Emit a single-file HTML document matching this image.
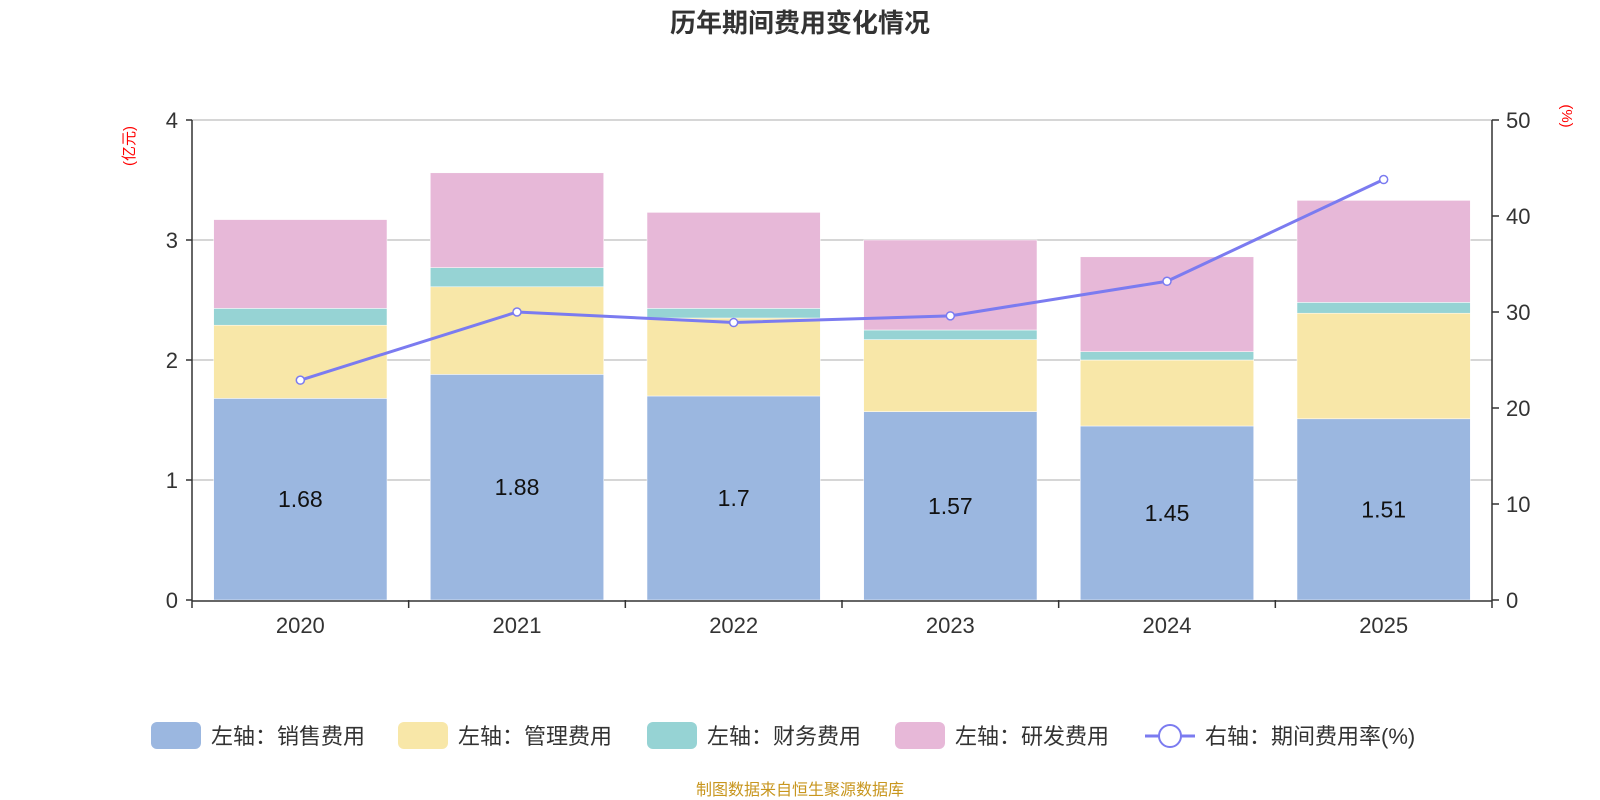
<!DOCTYPE html>
<html><head><meta charset="utf-8"><style>
body{margin:0;background:#fff;width:1600px;height:800px;overflow:hidden}
svg{display:block;font-family:"Liberation Sans","Noto Sans CJK SC",sans-serif}
</style></head><body>
<svg id="chart" width="1600" height="800">
<text x="800" y="32" text-anchor="middle" font-size="26" font-weight="bold" fill="#333">历年期间费用变化情况</text>
<text transform="translate(134,146) rotate(-90)" text-anchor="middle" font-size="15" fill="red">(亿元)</text>
<text transform="translate(1562,116) rotate(90)" text-anchor="middle" font-size="15" fill="red">(%)</text>
<g id="grid"></g><g id="bars"></g><g id="axes"></g><g id="line"></g>
<g id="legend" font-size="22" fill="#333"></g>
<text x="800" y="795" text-anchor="middle" font-size="16" fill="#c8961e">制图数据来自恒生聚源数据库</text>
</svg>
<script>
const categories=["2020","2021","2022","2023","2024","2025"];
const sales=[1.68,1.88,1.70,1.57,1.45,1.51];
const mgmt=[0.61,0.73,0.65,0.60,0.55,0.88];
const fin=[0.14,0.16,0.08,0.08,0.07,0.09];
const rd=[0.74,0.79,0.80,0.75,0.79,0.85];
const rate=[22.9,30.0,28.9,29.6,33.2,43.8];
const leftTicks=[0,1,2,3,4];
const rightTicks=[0,10,20,30,40,50];
const NS="http://www.w3.org/2000/svg";
const X0=192,X1=1492,Y0=600,Y1=120;
const band=(X1-X0)/categories.length;
const xc=i=>X0+band*(i+0.5);
const yL=v=>Y0-(Y0-Y1)*v/4;
const yR=v=>Y0-(Y0-Y1)*v/50;
function mk(tag,attrs,parent){const e=document.createElementNS(NS,tag);for(const k in attrs)e.setAttribute(k,attrs[k]);document.getElementById(parent).appendChild(e);return e;}
leftTicks.forEach(t=>{
 if(t>0){const l=mk('line',{x1:X0,x2:X1,y1:yL(t),y2:yL(t),stroke:'#c8c8c8','stroke-width':1.5},'grid');
 
 }
 const tx=mk('text',{x:X0-14,y:yL(t)+8,'text-anchor':'end','font-size':22,fill:'#333'},'axes');tx.textContent=t;
 
 
 mk('line',{x1:X0-6,x2:X0,y1:yL(t),y2:yL(t),stroke:'#333','stroke-width':1.5},'axes');
});
rightTicks.forEach(t=>{
 const tx=mk('text',{x:X1+14,y:yR(t)+8,'font-size':22,fill:'#333'},'axes');tx.textContent=t;
 
 
 mk('line',{x1:X1,x2:X1+7,y1:yR(t),y2:yR(t),stroke:'#333','stroke-width':1.5},'axes');
});
mk('line',{x1:X0,x2:X0,y1:Y1,y2:Y0,stroke:'#333','stroke-width':1.5},'axes');
mk('line',{x1:X1,x2:X1,y1:Y1,y2:Y0,stroke:'#333','stroke-width':1.5},'axes');
mk('line',{x1:X0,x2:X1,y1:Y0+1,y2:Y0+1,stroke:'#333','stroke-width':1.5},'axes');
for(let i=0;i<=categories.length;i++)mk('line',{x1:X0+band*i,x2:X0+band*i,y1:Y0,y2:Y0+8,stroke:'#333','stroke-width':1.5},'axes');
const series=[[sales,'#9bb7e0','sales'],[mgmt,'#f8e7a8','mgmt'],[fin,'#96d3d4','finance'],[rd,'#e7b8d8','rd']];
const bw=band*0.8;
categories.forEach((c,i)=>{
 let base=0;
 series.forEach(([arr,col,nm])=>{
  const r=mk('rect',{x:xc(i)-bw/2,y:yL(base+arr[i]),width:bw,height:yL(base)-yL(base+arr[i]),fill:col,stroke:'#fff','stroke-width':0.5},'bars');
  
  
  base+=arr[i];
 });
 const lb=mk('text',{x:xc(i),y:(yL(0)+yL(sales[i]))/2+8,'text-anchor':'middle','font-size':23,fill:'#111'},'bars');lb.textContent=sales[i];
 
 
 const xt=mk('text',{x:xc(i),y:Y0+33,'text-anchor':'middle','font-size':22,fill:'#333'},'axes');xt.textContent=c;
 
 
});
const pts=rate.map((v,i)=>xc(i)+','+yR(v)).join(' ');
const pl=mk('polyline',{points:pts,fill:'none',stroke:'#7b7bf0','stroke-width':3},'line');


rate.forEach((v,i)=>{const p=mk('circle',{cx:xc(i),cy:yR(v),r:4,fill:'#fff',stroke:'#7b7bf0','stroke-width':1.5},'line');
 
 });
const leg=[['左轴：销售费用','#9bb7e0',151],['左轴：管理费用','#f8e7a8',398],['左轴：财务费用','#96d3d4',647],['左轴：研发费用','#e7b8d8',895]];
leg.forEach(([t,c,x])=>{
 const g=mk('g',{},'legend');
 
 
 const r=document.createElementNS(NS,'rect');r.setAttribute('x',x);r.setAttribute('y',722);r.setAttribute('width',50);r.setAttribute('height',27);r.setAttribute('rx',6);r.setAttribute('fill',c);g.appendChild(r);
 const tx=document.createElementNS(NS,'text');tx.setAttribute('x',x+60);tx.setAttribute('y',744);tx.textContent=t;g.appendChild(tx);
});
const g=mk('g',{},'legend');


g.innerHTML='<line x1="1145" x2="1195" y1="736" y2="736" stroke="#7b7bf0" stroke-width="3"/><circle cx="1170" cy="736" r="11" fill="#fff" stroke="#7b7bf0" stroke-width="2"/><text x="1205" y="744">右轴：期间费用率(%)</text>';
</script>
</body></html>
